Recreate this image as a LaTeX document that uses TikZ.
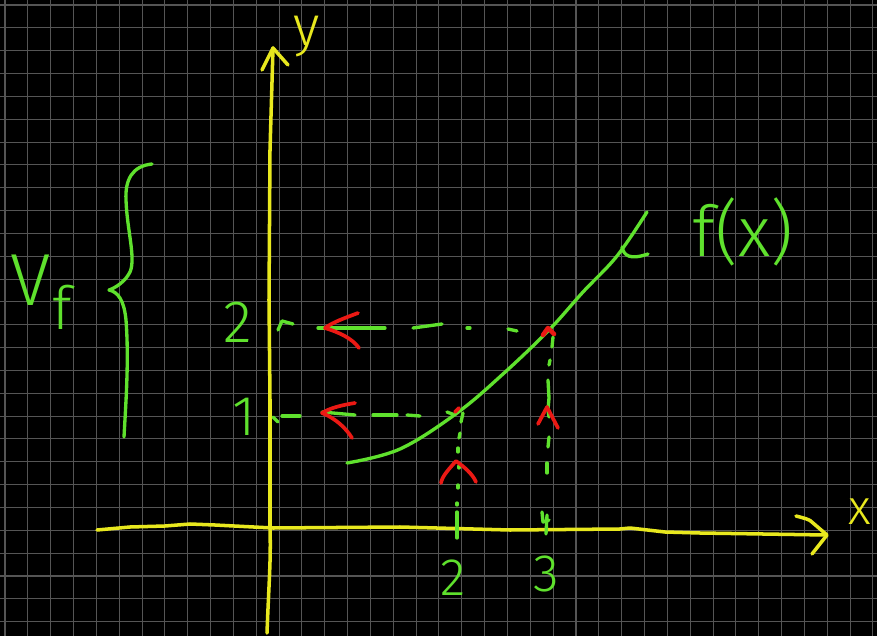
\documentclass[tikz,border=0pt]{standalone}
\usepackage{fontspec}
\newfontfamily\hand{Fira Sans Light}
\definecolor{gridc}{RGB}{85,85,85}
\definecolor{ylw}{RGB}{232,232,30}
\definecolor{grn}{RGB}{95,225,45}
\definecolor{rd}{RGB}{235,25,20}
\begin{document}
\begin{tikzpicture}[x=0.02cm,y=-0.02cm, line cap=round, line join=round,
  ax/.style={draw=ylw, line width=2pt},
  gr/.style={draw=grn, line width=1.9pt},
  rr/.style={draw=rd, line width=2.1pt},
  lbl/.style={text=grn, inner sep=0pt},
  fs/.style={font=\hand\fontsize{#1}{#1}\selectfont}
]
\fill[black] (0,0) rectangle (877,636);
\useasboundingbox (0,0) rectangle (877,636);
% grid
\foreach \i in {0,...,38} {\draw[gridc, line width=0.6pt] ({5+22.84*\i},0) -- ({5+22.84*\i},636);}
\foreach \j in {0,...,27} {\draw[gridc, line width=0.6pt] (0,{5+22.84*\j}) -- (877,{5+22.84*\j});}

% key points
\coordinate (p1) at (457,413);
\coordinate (p2) at (549,330);

% y axis
\draw[ax] (267,633) .. controls (269,580) and (271,560) .. (270,528) -- (270,400) -- (269,300) -- (270,150) -- (273,48);
\draw[ax] (262,70) -- (273,48) -- (288,65);
% x axis
\draw[ax] (97,530) -- (130,527) -- (165,526) -- (190,524) -- (215,525) -- (273,528) -- (400,527) -- (510,530) -- (620,529) -- (630,528) -- (665,532) -- (700,533) -- (826,535);
\draw[ax] (796,516) .. controls (803,518) and (810,519) .. (813,523) -- (827,535) -- (812,554);

% curve f(x)
\draw[gr] plot[smooth, tension=0.6] coordinates {(347,463) (400,449) (457,413) (503,374) (549,330) (583,292) (617,256) (647,212)};
\draw[gr] (622,247) .. controls (624,256) and (630,260) .. (648,254);

% horizontal dashed y=2
\draw[gr] (278,330) -- (282,321) -- (293,324);
\draw[gr] (318,328) -- (385,328);
\draw[gr] (413,328) -- (442,324);
\draw[gr] (467,328) -- (470,328);
\draw[gr] (508,329) -- (517,331);
% horizontal dashed y=1
\draw[gr] (273,417) -- (278,422);
\draw[gr] (282,416) -- (300,416);
\draw[gr] (322,412) -- (355,415);
\draw[gr] (373,415) -- (397,415);
\draw[gr] (407,415) -- (420,416);
\draw[gr] (447,412) -- (455,415);
% vertical dashed x=2
\draw[gr] (463,413) -- (461,422);
\draw[gr] (460,433) -- (459,438);
\draw[gr] (458,448) -- (458,452);
\draw[gr] (459,466) -- (459,468);
\draw[gr] (458,485) -- (458,488);
\draw[gr] (457,503) -- (457,505);
\draw[gr] (457,512) -- (457,538);
% vertical dashed x=3
\draw[gr] (553,337) -- (552,347);
\draw[gr] (550,360) -- (549,365);
\draw[gr] (548,380) -- (549,398) -- (548,410) -- (549,417);
\draw[gr] (549,437) -- (548,447);
\draw[gr] (547,463) -- (547,473);
\draw[gr] (542,512) -- (543,522) -- (549,520);
\draw[gr] (547,515) -- (546,534);

% red arrows
\draw[rr] (358,313) .. controls (345,318) and (333,322) .. (325,328) .. controls (338,332) and (352,338) .. (359,348);
\draw[rr] (355,403) .. controls (342,405) and (330,408) .. (322,413) .. controls (335,418) and (346,428) .. (352,438);
\draw[rr] (441,483) .. controls (442,476) and (450,468) .. (456,461) .. controls (464,467) and (472,473) .. (476,482);
\draw[rr] (538,424) -- (547,407) -- (558,428);
\draw[rr, line width=2.6pt] (543,335) -- (548,328) -- (554,334);
\draw[rr] (455,412) -- (459,408);

% brace
\draw[gr] (152,164) .. controls (132,166) and (125,180) .. (126,200) .. controls (127,230) and (136,258) .. (130,272) .. controls (125,282) and (115,288) .. (109,290) .. controls (118,292) and (124,300) .. (126,320) .. controls (129,360) and (126,400) .. (124,437);

% labels
\node[lbl, fs=32, text=ylw] (ylab) at (307,37) {y};
\node[lbl, fs=28, text=ylw] (xlab) at (860,512) {x};
\node[lbl, fs=40] (flab) at (743,232) {f(x)};
\node[lbl, fs=30] (x2) at (453,578) {2};
\node[lbl, fs=30] (x3) at (546,574) {3};
\node[lbl, fs=34] (y2) at (238,322) {2};
\node[lbl, fs=32] (y1) at (244,417) {1};
\node[lbl, fs=42, anchor=base west] (vf) at (10,305) {V\kern1pt\raisebox{-14pt}{\fontsize{34}{34}\selectfont f}};
\end{tikzpicture}
\end{document}
